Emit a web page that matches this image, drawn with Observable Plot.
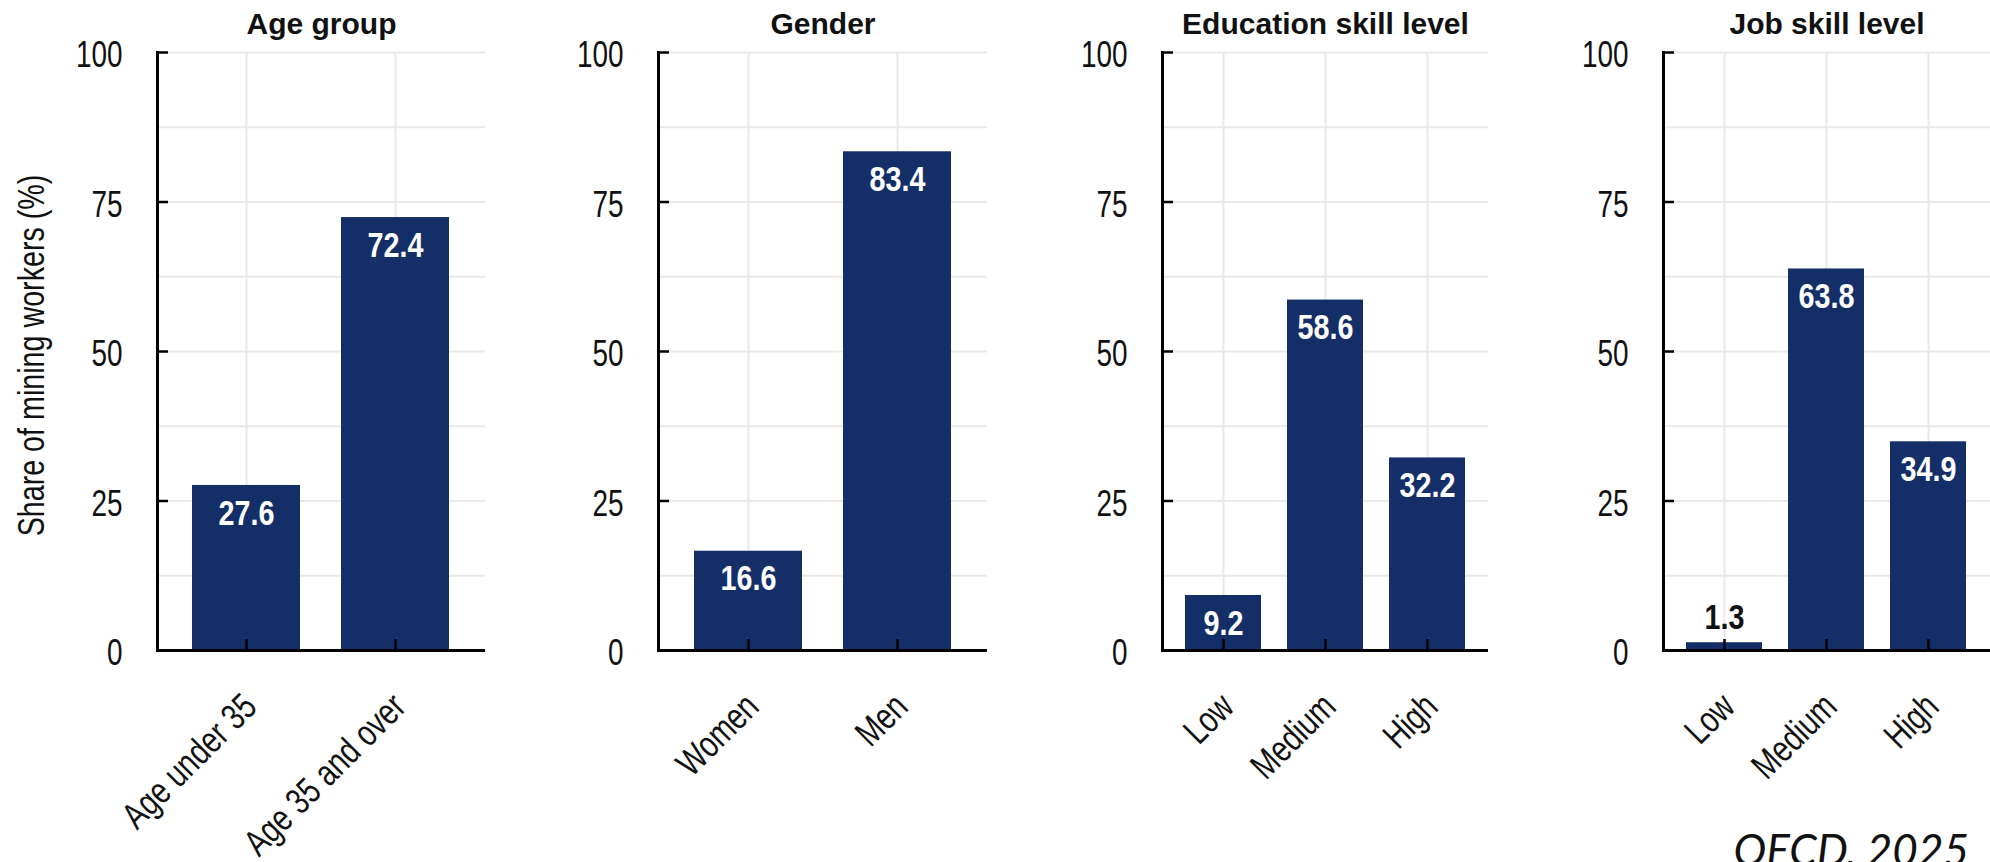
<!DOCTYPE html>
<html>
<head>
<meta charset="utf-8">
<script src="https://cdn.jsdelivr.net/npm/d3@7"></script>
<script src="https://cdn.jsdelivr.net/npm/@observablehq/plot@0.6"></script>
<style>
html, body { margin: 0; padding: 0; background: #fff; }
#wrap { position: relative; width: 1990px; height: 862px; overflow: hidden; background: #fff; }
.panel { position: absolute; top: 0; }
</style>
</head>
<body>
<div id="wrap"></div>
<script>
// ---- data ----
const panelTitles = ["Age group", "Gender", "Education skill level", "Job skill level"];
const ageCategories = ["Age under 35", "Age 35 and over"];
const ageValues = [27.6, 72.4];
const genderCategories = ["Women", "Men"];
const genderValues = [16.6, 83.4];
const educationCategories = ["Low", "Medium", "High"];
const educationValues = [9.2, 58.6, 32.2];
const jobCategories = ["Low", "Medium", "High"];
const jobValues = [1.3, 63.8, 34.9];
const yTicks = [0, 25, 50, 75, 100];
const yGridTicks = [12.5, 25, 37.5, 50, 62.5, 75, 87.5, 100];
const yAxisTitle = "Share of mining workers (%)";
const sourceNote = "OECD, 2025";

// ---- layout / style ----
const BAR = "#142f68";
const GRID = "#e9e9e9";
const SANS = "'Liberation Sans', Arial, sans-serif";
const CONDENSE_REGULAR = 0.775; // emulate Arial Narrow
const CONDENSE_BOLD = 0.82;

const panels = [
  {title: panelTitles[0], cats: ageCategories, vals: ageValues, left: 0, width: 500, ml: 157, pw: 328},
  {title: panelTitles[1], cats: genderCategories, vals: genderValues, left: 500, width: 500, ml: 158, pw: 329},
  {title: panelTitles[2], cats: educationCategories, vals: educationValues, left: 1000, width: 500, ml: 162, pw: 326},
  {title: panelTitles[3], cats: jobCategories, vals: jobValues, left: 1500, width: 490, ml: 163, pw: 327}
];

function condenseTexts(svg) {
  svg.querySelectorAll("text").forEach(t => {
    const content = t.textContent;
    if (panelTitles.includes(content) || content === sourceNote) return;
    const bold = parseInt(getComputedStyle(t).fontWeight, 10) >= 600;
    const len = t.getComputedTextLength();
    if (len > 0) {
      t.setAttribute("textLength", (len * (bold ? CONDENSE_BOLD : CONDENSE_REGULAR)).toFixed(2));
      t.setAttribute("lengthAdjust", "spacingAndGlyphs");
    }
  });
}

const wrap = document.getElementById("wrap");

panels.forEach((p, i) => {
  const data = p.cats.map((c, j) => ({cat: c, value: p.vals[j]}));
  const two = p.cats.length === 2;
  const marks = [
    Plot.gridY(yGridTicks, {stroke: GRID, strokeOpacity: 1, strokeWidth: 2}),
    Plot.gridX({stroke: GRID, strokeOpacity: 1, strokeWidth: 2}),
    Plot.barY(data, {x: "cat", y: "value", fill: BAR}),
    Plot.text(data.filter(d => d.value >= 5), {
      x: "cat", y: "value", text: d => d.value.toFixed(1), dy: 28,
      fill: "white", fontWeight: "bold", fontSize: 35, fontFamily: SANS, lineAnchor: "middle"
    }),
    Plot.text(data.filter(d => d.value < 5), {
      x: "cat", y: "value", text: d => d.value.toFixed(1), dy: -25,
      fill: "#111", fontWeight: "bold", fontSize: 35, fontFamily: SANS, lineAnchor: "middle"
    }),
    Plot.frame({anchor: "left", stroke: "black", strokeWidth: 3}),
    Plot.ruleY([0], {stroke: "black", strokeWidth: 3}),
    Plot.axisY(yTicks, {tickSize: 11, dx: 11, fill: "none", stroke: "black", strokeWidth: 2.5, label: null}),
    Plot.axisY(yTicks, {tickSize: 0, tickPadding: 35, dy: 3, fontSize: 36, fontFamily: SANS, fill: "#111", label: null}),
    Plot.axisX({tickSize: 11, dy: -11, fill: "none", stroke: "black", strokeWidth: 2.5, label: null}),
    Plot.axisX({tickSize: 0, tickPadding: 50, dx: 4, tickRotate: -45, fontSize: 37, fontFamily: SANS, fill: "#111", label: null}),
    Plot.text([p.title], {frameAnchor: "top", lineAnchor: "bottom", dy: -19, fontSize: 30, fontWeight: "bold", fontFamily: SANS, fill: "#111"})
  ];
  if (i === 0) {
    marks.push(Plot.text([yAxisTitle], {frameAnchor: "left", dx: -125, dy: 4, rotate: -90, textAnchor: "middle", lineAnchor: "middle", fontSize: 37, fontFamily: SANS, fill: "#111"}));
  }
  if (i === 3) {
    marks.push(Plot.text([sourceNote], {frameAnchor: "bottom-left", dx: 70, dy: 215, textAnchor: "start", lineAnchor: "bottom", fontSize: 44, fontStyle: "italic", fontFamily: "Lato, 'Open Sans', sans-serif", fill: "#111"}));
  }
  const chart = Plot.plot({
    width: p.width,
    height: 862,
    marginTop: 52,
    marginBottom: 212,
    marginLeft: p.ml,
    marginRight: p.width - p.ml - p.pw,
    x: {domain: p.cats, paddingInner: two ? 0.275 : 0.254, paddingOuter: two ? 0.235 : 0.215, label: null},
    y: {domain: [0, 100], label: null},
    style: {background: "transparent", fontFamily: SANS, overflow: "visible"},
    marks
  });
  chart.classList.add("panel");
  chart.style.left = p.left + "px";
  wrap.appendChild(chart);
  condenseTexts(chart);
});
</script>
</body>
</html>
